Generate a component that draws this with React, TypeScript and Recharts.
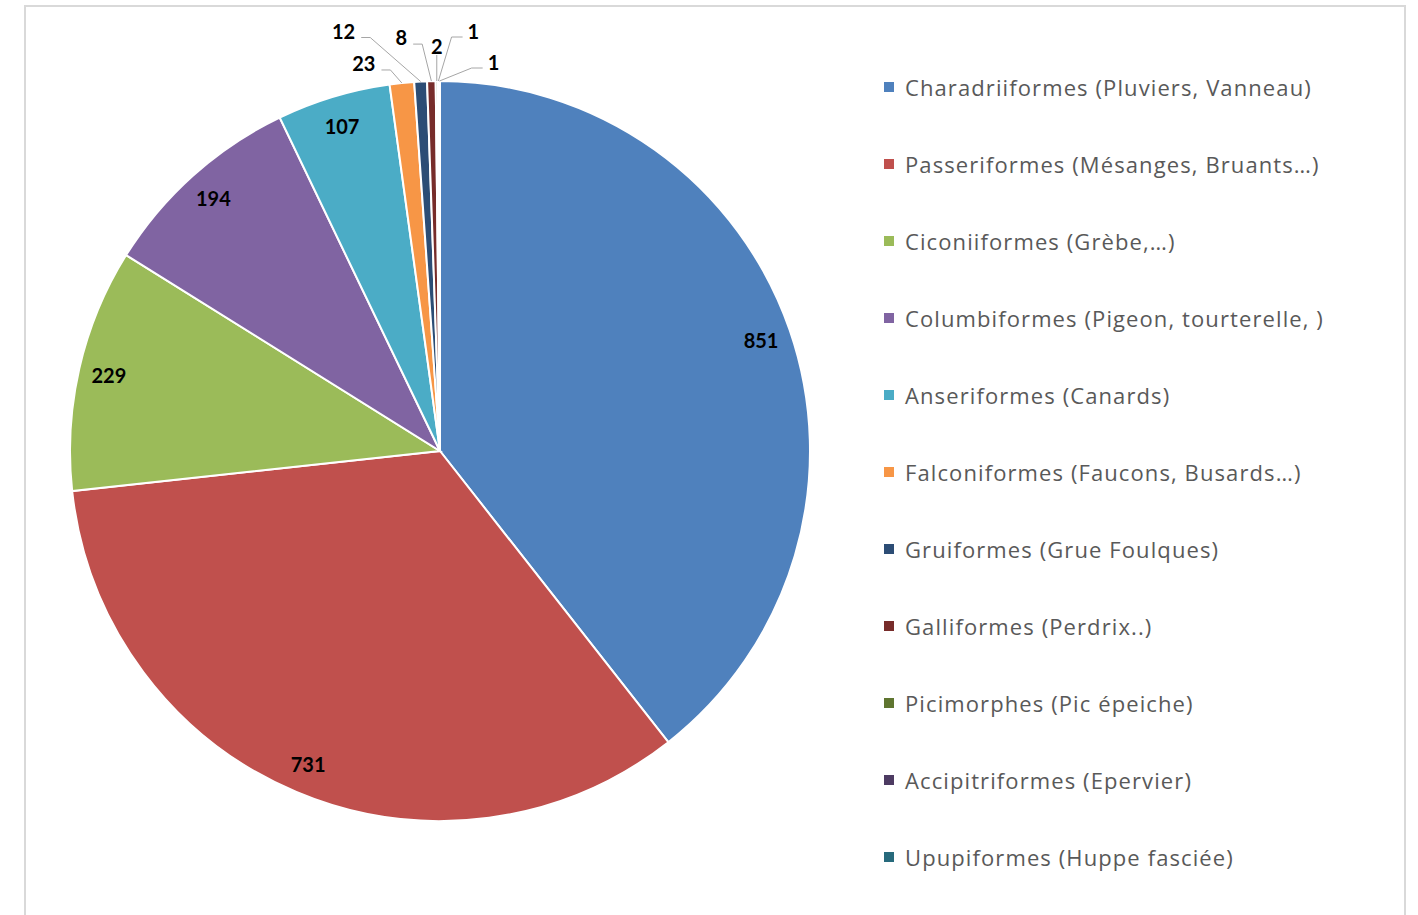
import React from "react";
import { PieChart, Pie, Cell, Legend } from "recharts";

const categories = [
  "Charadriiformes (Pluviers, Vanneau)",
  "Passeriformes (Mésanges, Bruants…)",
  "Ciconiiformes (Grèbe,…)",
  "Columbiformes (Pigeon, tourterelle, )",
  "Anseriformes (Canards)",
  "Falconiformes (Faucons, Busards…)",
  "Gruiformes (Grue Foulques)",
  "Galliformes (Perdrix..)",
  "Picimorphes (Pic épeiche)",
  "Accipitriformes (Epervier)",
  "Upupiformes (Huppe fasciée)",
];
const counts = [851, 731, 229, 194, 107, 23, 12, 8, 2, 1, 1];
const colors = [
  "#4F81BD",
  "#C0504D",
  "#9BBB59",
  "#8064A2",
  "#4BACC6",
  "#F79646",
  "#2C4D75",
  "#772C2A",
  "#5F7530",
  "#4D3B62",
  "#276A7C",
];

// label layout for the small slices (offset of label centre from slice edge point)
const outsideLabelLayout: Record<number, { dx: number; dy: number; side: string }> = {
  5: { dx: -38, dy: -20, side: "left" },
  6: { dx: -77, dy: -51, side: "left" },
  7: { dx: -30, dy: -44, side: "left" },
  8: { dx: 0, dy: -35, side: "below" },
  9: { dx: 35, dy: -50, side: "right" },
  10: { dx: 54, dy: -19, side: "right" },
};

const data = categories.map((name, i) => ({ name, value: counts[i] }));

const RAD = Math.PI / 180;
const FONT = "Lato, 'Open Sans', sans-serif";
const LEGEND_FONT = "'Open Sans', Lato, sans-serif";

const renderLabel = (props: any) => {
  const { cx, cy, midAngle, outerRadius, index, value } = props;
  const cos = Math.cos(-midAngle * RAD);
  const sin = Math.sin(-midAngle * RAD);
  const layout = outsideLabelLayout[index];
  if (!layout) {
    const r = outerRadius * 0.918;
    return (
      <text
        key={`l-${index}`}
        x={cx + r * cos}
        y={cy + r * sin}
        textAnchor="middle"
        dominantBaseline="central"
        fontFamily={FONT}
        fontWeight={700}
        fontSize={20}
        fill="#000"
      >
        {value}
      </text>
    );
  }
  const px = cx + outerRadius * cos;
  const py = cy + outerRadius * sin;
  const lx = px + layout.dx;
  const ly = py + layout.dy;
  const hw = String(value).length * 5.8;
  let pts: number[][];
  if (layout.side === "left") {
    const ex = lx + hw + 6;
    const ey = ly + 7;
    pts = [[px, py], [ex + 9, ey], [ex, ey]];
  } else if (layout.side === "right") {
    const ex = lx - hw - 5;
    const ey = ly + 6;
    pts = [[px, py], [ex - 11, ey], [ex, ey]];
  } else {
    pts = [[px, py], [lx, ly + 9]];
  }
  return (
    <g key={`l-${index}`}>
      <polyline
        points={pts.map((p) => p.join(",")).join(" ")}
        fill="none"
        stroke="#A6A6A6"
        strokeWidth={1}
      />
      <text
        x={lx}
        y={ly}
        textAnchor="middle"
        dominantBaseline="central"
        fontFamily={FONT}
        fontWeight={700}
        fontSize={20}
        fill="#000"
      >
        {value}
      </text>
    </g>
  );
};

const renderLegend = () => (
  <div style={{ fontFamily: LEGEND_FONT }}>
    {categories.map((c, i) => (
      <div
        key={c}
        style={{ display: "flex", alignItems: "center", height: 77 }}
      >
        <div
          style={{
            width: 10,
            height: 10,
            background: colors[i],
            marginRight: 11,
            flex: "none",
          }}
        />
        <span
          style={{
            fontSize: 22,
            letterSpacing: 1.1,
            color: "#595959",
            whiteSpace: "nowrap",
          }}
        >
          {c}
        </span>
      </div>
    ))}
  </div>
);

export default function App() {
  return (
    <div
      style={{
        position: "absolute",
        left: 0,
        top: 0,
        width: 1418,
        height: 915,
        overflow: "hidden",
        background: "#fff",
      }}
    >
      <div
        style={{
          position: "absolute",
          left: 24,
          top: 5,
          width: 1378,
          height: 920,
          border: "2px solid #D9D9D9",
          borderBottom: "none",
        }}
      />
      <div style={{ position: "absolute", left: 0, top: 0 }}>
        <PieChart width={1418} height={915} margin={{ top: 0, right: 0, bottom: 0, left: 0 }}>
          <Pie
            data={data}
            dataKey="value"
            nameKey="name"
            cx={440}
            cy={451}
            outerRadius={370}
            startAngle={90}
            endAngle={-270}
            stroke="#fff"
            strokeWidth={2}
            label={renderLabel}
            labelLine={false}
            isAnimationActive={false}
          >
            {data.map((d, i) => (
              <Cell key={d.name} fill={colors[i]} />
            ))}
          </Pie>
          <Legend
            content={renderLegend}
            wrapperStyle={{ left: 884, top: 48, width: 520, position: "absolute" }}
          />
        </PieChart>
      </div>
    </div>
  );
}
